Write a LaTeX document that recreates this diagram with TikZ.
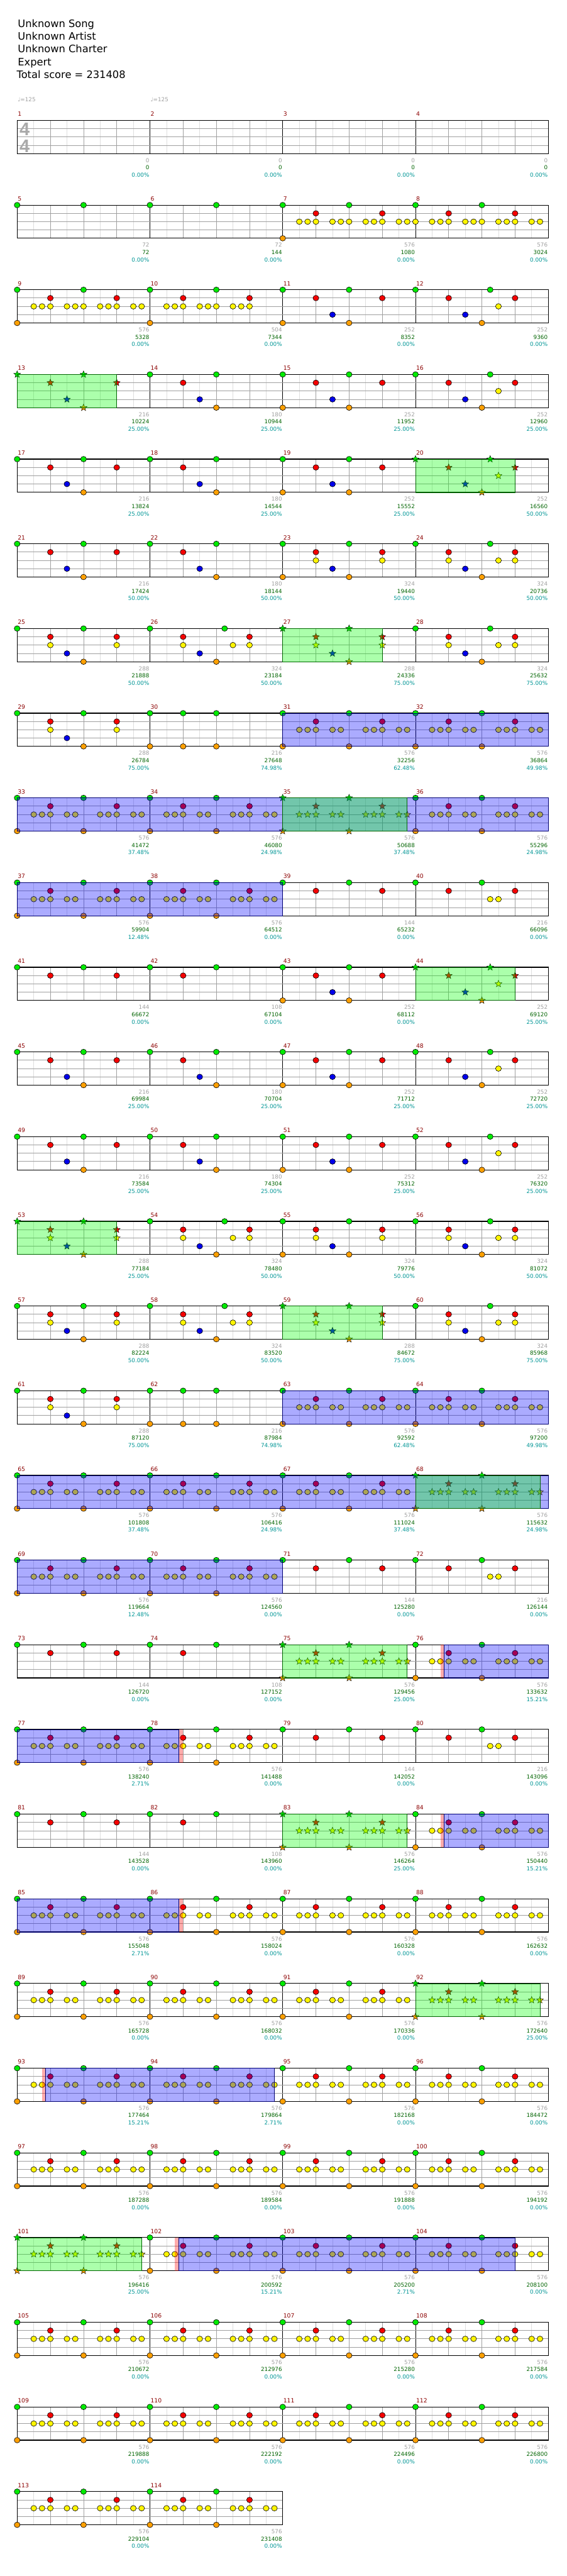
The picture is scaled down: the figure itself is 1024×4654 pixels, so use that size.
\documentclass[tikz,border=0pt]{standalone}
\usepackage{fontspec}
\setmainfont{DejaVu Sans}
\newfontfamily\tsfont{Liberation Sans}
\usetikzlibrary{shapes.geometric}
\definecolor{c0}{RGB}{0,235,0}
\definecolor{c1}{RGB}{245,0,0}
\definecolor{c2}{RGB}{255,245,0}
\definecolor{c3}{RGB}{0,0,235}
\definecolor{c4}{RGB}{255,160,0}
\definecolor{gridlight}{RGB}{222,222,222}
\definecolor{gridmid}{RGB}{160,160,160}
\definecolor{mnum}{RGB}{140,0,0}
\definecolor{lgray}{RGB}{160,160,160}
\definecolor{lgreen}{RGB}{0,100,0}
\definecolor{lteal}{RGB}{0,150,150}
\definecolor{tsgray}{RGB}{170,170,170}
\tikzset{
 notebase/.style={ellipse, draw=black, line width=0.7, minimum width=10.5, minimum height=10, inner sep=0},
 starbase/.style={star, star points=5, star point ratio=2.3, draw=black, line width=0.5, minimum size=13, inner sep=0},
 hdr/.style={anchor=base west, inner sep=0, font=\fontsize{18.5}{22}\selectfont},
 tempo/.style={anchor=base west, inner sep=0, text=lgray, font=\fontsize{10}{12}\selectfont},
 tsig/.style={anchor=base, inner sep=0, text=tsgray, font=\tsfont\bfseries\fontsize{33}{36}\selectfont},
 numlab/.style={anchor=base west, inner sep=0, text=mnum, font=\fontsize{10.5}{12}\selectfont},
 glab/.style={anchor=base east, inner sep=0, text=lgray, font=\fontsize{10}{12}\selectfont},
 slab/.style={anchor=base east, inner sep=0, text=lgreen, font=\fontsize{10}{12}\selectfont},
 plab/.style={anchor=base east, inner sep=0, text=lteal, font=\fontsize{10}{12}\selectfont},
 ovg/.style={fill=green, fill opacity=0.33, draw=green!40!black, line width=0.8},
 ovb/.style={fill=blue, fill opacity=0.33, draw=blue!45!black, line width=0.8},
 ovr/.style={fill=red, fill opacity=0.33},
}
\def\PY{0/0,0/8,4/0,4/8,1/4,1/12,2/2,2/3,2/4,2/6,2/7,2/10,2/11,2/12,2/14,2/15}
\def\PYa{0/0,0/8,4/0,1/4,1/12,2/2,2/3,2/4,2/6,2/7,2/8,2/10,2/11,2/12,2/14,2/15}
\def\PYb{0/0,0/8,1/4,1/12,2/0,2/2,2/3,2/4,2/6,2/7,2/8,2/10,2/11,2/12,2/14,2/15}
\def\PYc{0/0,0/8,4/0,1/4,1/12,2/2,2/3,2/4,2/6,2/7,2/8,2/10,2/11,2/12}
\def\PA{0/0,0/8,1/4,1/12,3/6,4/8}
\def\PB{0/0,0/8,1/4,3/6,4/8}
\def\PC{0/0,0/8,1/4,1/12,3/6,4/0,4/8}
\def\PD{0/0,0/9,1/4,1/12,3/6,2/10,4/8}
\def\PE{0/0,0/8,1/4,1/12,2/4,2/12,3/6,4/8}
\def\PF{0/0,0/9,1/4,1/12,2/4,2/10,2/12,3/6,4/8}
\def\PG{0/0,0/8,1/4,1/12,2/4,2/12,3/6,4/0,4/8}
\def\PI{0/0,0/8,1/4,1/12}
\def\PJ{0/0,0/4,0/8,4/0,4/4,4/8}
\def\PK{0/0,0/8,1/4,1/12,2/9,2/10}
\def\PL{0/0,0/8,1/4}
\newcommand\Grid[2]{%
 \pgfmathsetmacro\yT{217.5+153*#1}%
 \pgfmathsetmacro\xR{31+240*#2}%
 \pgfmathtruncatemacro\nl{8*#2-1}%
 \pgfmathtruncatemacro\nb{4*#2-1}%
 \pgfmathtruncatemacro\nm{#2-1}%
 \foreach \i in {1,3,...,\nl} {\draw[gridlight, line width=0.8] ({31+30*\i},\yT) -- ++(0,60);}
 \foreach \i in {1,...,\nb} {\draw[gridmid, line width=0.8] ({31+60*\i},\yT) -- ++(0,60);}
 \foreach \i in {1,...,\nm} {\draw[black, line width=0.8] ({31+240*\i},\yT) -- ++(0,60);}
 \foreach \k in {1,2,3} {\draw[gridmid, line width=1] (31,{\yT+15*\k}) -- (\xR,{\yT+15*\k});}
 \draw[black, line width=1.3] (31,\yT) rectangle (\xR,{\yT+60});
}
\newcommand\Mn[3]{\edef\nlist{#3}%
 \foreach \l/\p in \nlist {\colorlet{curc}{c\l}%
 \node[notebase, fill=curc] (n-#1-#2-\l-\p) at ({31+240*#2+15*\p},{217.5+153*#1+15*\l}) {};}}
\newcommand\Ms[3]{\edef\nlist{#3}%
 \foreach \l/\p in \nlist {\colorlet{curc}{c\l}%
 \node[starbase, fill=curc] (s-#1-#2-\l-\p) at ({31+240*#2+15*\p},{217.5+153*#1+15*\l}) {};}}
\newcommand\Ov[4]{\path[#4] ({31+15*#2},{217.5+153*#1}) rectangle ({31+15*#3},{277.5+153*#1});}
\newcommand\RowLab[2]{%
 \foreach \g/\s/\q [count=\c from 0] in {#2}{%
  \pgfmathsetmacro\xe{31+240*(\c+1)-1}%
  \pgfmathsetmacro\yt{217.5+153*#1}%
  \pgfmathtruncatemacro\mn{4*#1+\c+1}%
  \node[numlab] (m\mn) at ({31+240*\c+1},{\yt-7.5}) {\mn};
  \node[glab] (g\mn) at (\xe,{\yt+76}) {\g};
  \node[slab] (c\mn) at (\xe,{\yt+89}) {\s};
  \node[plab] (p\mn) at (\xe,{\yt+102.3}) {\q\%};
 }}
\begin{document}
\begin{tikzpicture}[x=1pt,y=-1pt]
\useasboundingbox (0,0) rectangle (1024,4654);
\fill[white] (0,0) rectangle (1024,4654);
\node[hdr] (h1) at (32,49.3) {Unknown Song};
\node[hdr] (h2) at (32,72.3) {Unknown Artist};
\node[hdr] (h3) at (32,95.3) {Unknown Charter};
\node[hdr] (h4) at (32,118.3) {Expert};
\node[hdr] (h5) at (30,141.5) {Total score = 231408};
\node[tempo] (t1) at (32,184) {♩=125};
\node[tempo] (t2) at (272,184) {♩=125};
\foreach \r in {0,...,27} {\Grid{\r}{4}}
\Grid{28}{2}
\node[tsig] (ts1) at (44.5,245) {4};
\node[tsig] (ts2) at (44.5,275) {4};
% ---- notes
\Mn{1}{0}{0/0,0/8}\Mn{1}{1}{0/0,0/8}\Mn{1}{2}{\PYa}\Mn{1}{3}{\PYb}
\Mn{2}{0}{\PYa}\Mn{2}{1}{\PYc}\Mn{2}{2}{\PC}\Mn{2}{3}{\PD}
\Ms{3}{0}{\PA}\Mn{3}{1}{\PB}\Mn{3}{2}{\PC}\Mn{3}{3}{\PD}
\Mn{4}{0}{\PA}\Mn{4}{1}{\PB}\Mn{4}{2}{\PC}\Ms{4}{3}{\PD}
\Mn{5}{0}{\PA}\Mn{5}{1}{\PB}\Mn{5}{2}{\PG}\Mn{5}{3}{\PF}
\Mn{6}{0}{\PE}\Mn{6}{1}{\PF}\Ms{6}{2}{\PE}\Mn{6}{3}{\PF}
\Mn{7}{0}{\PE}\Mn{7}{1}{\PJ}\Mn{7}{2}{\PY}\Mn{7}{3}{\PY}
\Mn{8}{0}{\PY}\Mn{8}{1}{\PY}\Ms{8}{2}{\PY}\Mn{8}{3}{\PY}
\Mn{9}{0}{\PY}\Mn{9}{1}{\PY}\Mn{9}{2}{\PI}\Mn{9}{3}{\PK}
\Mn{10}{0}{\PI}\Mn{10}{1}{\PL}\Mn{10}{2}{\PC}\Ms{10}{3}{\PD}
\Mn{11}{0}{\PA}\Mn{11}{1}{\PB}\Mn{11}{2}{\PC}\Mn{11}{3}{\PD}
\Mn{12}{0}{\PA}\Mn{12}{1}{\PB}\Mn{12}{2}{\PC}\Mn{12}{3}{\PD}
\Ms{13}{0}{\PE}\Mn{13}{1}{\PF}\Mn{13}{2}{\PG}\Mn{13}{3}{\PF}
\Mn{14}{0}{\PE}\Mn{14}{1}{\PF}\Ms{14}{2}{\PE}\Mn{14}{3}{\PF}
\Mn{15}{0}{\PE}\Mn{15}{1}{\PJ}\Mn{15}{2}{\PY}\Mn{15}{3}{\PY}
\Mn{16}{0}{\PY}\Mn{16}{1}{\PY}\Mn{16}{2}{\PY}\Ms{16}{3}{\PY}
\Mn{17}{0}{\PY}\Mn{17}{1}{\PY}\Mn{17}{2}{\PI}\Mn{17}{3}{\PK}
\Mn{18}{0}{\PI}\Mn{18}{1}{\PL}\Ms{18}{2}{\PY}\Mn{18}{3}{\PY}
\Mn{19}{0}{\PY}\Mn{19}{1}{\PY}\Mn{19}{2}{\PI}\Mn{19}{3}{\PK}
\Mn{20}{0}{\PI}\Mn{20}{1}{\PL}\Ms{20}{2}{\PY}\Mn{20}{3}{\PY}
\Mn{21}{0}{\PY}\Mn{21}{1}{\PY}\Mn{21}{2}{\PY}\Mn{21}{3}{\PY}
\Mn{22}{0}{\PY}\Mn{22}{1}{\PY}\Mn{22}{2}{\PY}\Ms{22}{3}{\PY}
\Mn{23}{0}{\PY}\Mn{23}{1}{\PY}\Mn{23}{2}{\PY}\Mn{23}{3}{\PY}
\Mn{24}{0}{\PY}\Mn{24}{1}{\PY}\Mn{24}{2}{\PY}\Mn{24}{3}{\PY}
\Ms{25}{0}{\PY}\Mn{25}{1}{\PY}\Mn{25}{2}{\PY}\Mn{25}{3}{\PY}
\Mn{26}{0}{\PY}\Mn{26}{1}{\PY}\Mn{26}{2}{\PY}\Mn{26}{3}{\PY}
\Mn{27}{0}{\PY}\Mn{27}{1}{\PY}\Mn{27}{2}{\PY}\Mn{27}{3}{\PY}
\Mn{28}{0}{\PY}\Mn{28}{1}{\PY}
% ---- overlays
\Ov{3}{0}{12}{ovg}
\Ov{4}{48}{60}{ovg}
\Ov{6}{32}{44}{ovg}
\Ov{7}{32}{64}{ovb}
\Ov{8}{0}{64}{ovb}\Ov{8}{32}{47}{ovg}
\Ov{9}{0}{32}{ovb}
\Ov{10}{48}{60}{ovg}
\Ov{13}{0}{12}{ovg}
\Ov{14}{32}{44}{ovg}
\Ov{15}{32}{64}{ovb}
\Ov{16}{0}{64}{ovb}\Ov{16}{48}{63}{ovg}
\Ov{17}{0}{32}{ovb}
\Ov{18}{32}{47}{ovg}\Ov{18}{51}{51.45}{ovr}\Ov{18}{51.45}{64}{ovb}
\Ov{19}{0}{19.5}{ovb}\Ov{19}{19.5}{20}{ovr}
\Ov{20}{32}{47}{ovg}\Ov{20}{51}{51.45}{ovr}\Ov{20}{51.45}{64}{ovb}
\Ov{21}{0}{19.5}{ovb}\Ov{21}{19.5}{20}{ovr}
\Ov{22}{48}{63}{ovg}
\Ov{23}{3}{3.45}{ovr}\Ov{23}{3.45}{31}{ovb}
\Ov{25}{0}{15}{ovg}\Ov{25}{19}{19.45}{ovr}\Ov{25}{19.45}{60}{ovb}
% ---- labels
\RowLab{0}{0/0/0.00,0/0/0.00,0/0/0.00,0/0/0.00}
\RowLab{1}{72/72/0.00,72/144/0.00,576/1080/0.00,576/3024/0.00}
\RowLab{2}{576/5328/0.00,504/7344/0.00,252/8352/0.00,252/9360/0.00}
\RowLab{3}{216/10224/25.00,180/10944/25.00,252/11952/25.00,252/12960/25.00}
\RowLab{4}{216/13824/25.00,180/14544/25.00,252/15552/25.00,252/16560/50.00}
\RowLab{5}{216/17424/50.00,180/18144/50.00,324/19440/50.00,324/20736/50.00}
\RowLab{6}{288/21888/50.00,324/23184/50.00,288/24336/75.00,324/25632/75.00}
\RowLab{7}{288/26784/75.00,216/27648/74.98,576/32256/62.48,576/36864/49.98}
\RowLab{8}{576/41472/37.48,576/46080/24.98,576/50688/37.48,576/55296/24.98}
\RowLab{9}{576/59904/12.48,576/64512/0.00,144/65232/0.00,216/66096/0.00}
\RowLab{10}{144/66672/0.00,108/67104/0.00,252/68112/0.00,252/69120/25.00}
\RowLab{11}{216/69984/25.00,180/70704/25.00,252/71712/25.00,252/72720/25.00}
\RowLab{12}{216/73584/25.00,180/74304/25.00,252/75312/25.00,252/76320/25.00}
\RowLab{13}{288/77184/25.00,324/78480/50.00,324/79776/50.00,324/81072/50.00}
\RowLab{14}{288/82224/50.00,324/83520/50.00,288/84672/75.00,324/85968/75.00}
\RowLab{15}{288/87120/75.00,216/87984/74.98,576/92592/62.48,576/97200/49.98}
\RowLab{16}{576/101808/37.48,576/106416/24.98,576/111024/37.48,576/115632/24.98}
\RowLab{17}{576/119664/12.48,576/124560/0.00,144/125280/0.00,216/126144/0.00}
\RowLab{18}{144/126720/0.00,108/127152/0.00,576/129456/25.00,576/133632/15.21}
\RowLab{19}{576/138240/2.71,576/141488/0.00,144/142052/0.00,216/143096/0.00}
\RowLab{20}{144/143528/0.00,108/143960/0.00,576/146264/25.00,576/150440/15.21}
\RowLab{21}{576/155048/2.71,576/158024/0.00,576/160328/0.00,576/162632/0.00}
\RowLab{22}{576/165728/0.00,576/168032/0.00,576/170336/0.00,576/172640/25.00}
\RowLab{23}{576/177464/15.21,576/179864/2.71,576/182168/0.00,576/184472/0.00}
\RowLab{24}{576/187288/0.00,576/189584/0.00,576/191888/0.00,576/194192/0.00}
\RowLab{25}{576/196416/25.00,576/200592/15.21,576/205200/2.71,576/208100/0.00}
\RowLab{26}{576/210672/0.00,576/212976/0.00,576/215280/0.00,576/217584/0.00}
\RowLab{27}{576/219888/0.00,576/222192/0.00,576/224496/0.00,576/226800/0.00}
\RowLab{28}{576/229104/0.00,576/231408/0.00}
\end{tikzpicture}
\end{document}
